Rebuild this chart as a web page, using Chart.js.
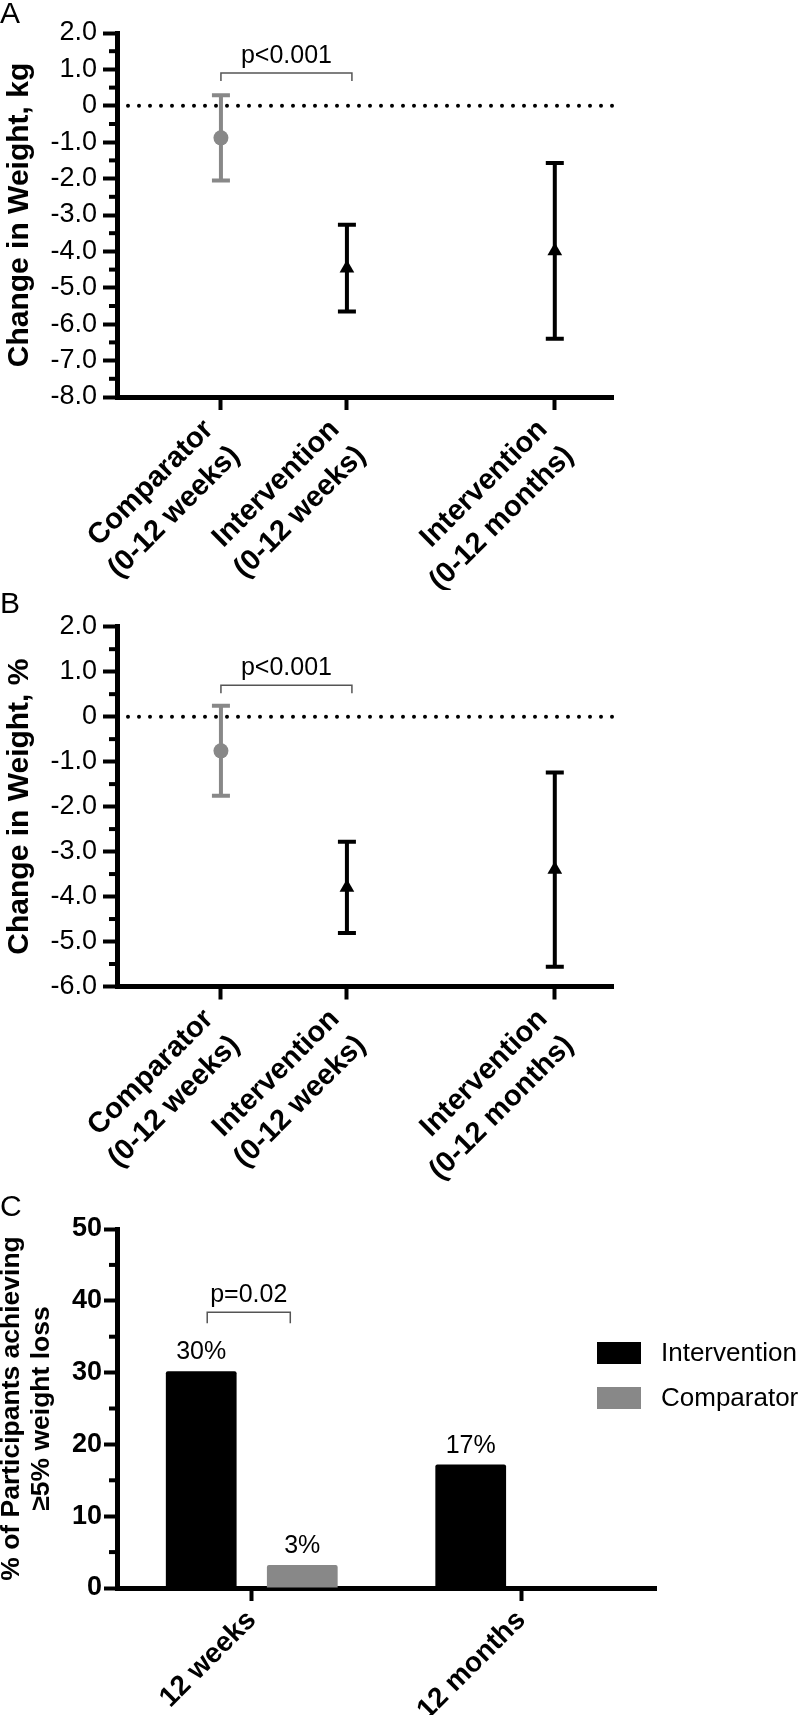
<!DOCTYPE html>
<html>
<head>
<meta charset="utf-8">
<script src="https://cdn.jsdelivr.net/npm/chart.js@4.4.1/dist/chart.umd.min.js"></script>
<style>
  body { margin: 0; background: #fff; }
  canvas { display: block; }
</style>
</head>
<body>
<canvas id="chartA" width="800" height="590"></canvas>
<canvas id="chartB" width="800" height="600"></canvas>
<canvas id="chartC" width="800" height="525"></canvas>
<script>
// groups for panels A and B
var groupLabels = [['Comparator', '(0-12 weeks)'], ['Intervention', '(0-12 weeks)'], ['Intervention', '(0-12 months)']];
var groupX = [1, 2, 3.65];

// panel A : change in weight, kg
var kgMean = [-0.88, -4.46, -3.99];
var kgLow = [-2.05, -5.65, -6.40];
var kgHigh = [0.29, -3.27, -1.57];

// panel B : change in weight, %
var pctMean = [-0.76, -3.80, -3.40];
var pctLow = [-1.76, -4.81, -5.56];
var pctHigh = [0.24, -2.78, -1.24];

// panel C : % achieving >=5% loss
var periods = ['12 weeks', '12 months'];
var interventionPct = [30.2, 17.2];
var comparatorPct = [3.2, null];

Chart.defaults.font.family = '"Liberation Sans", Arial, Helvetica, sans-serif';
Chart.defaults.color = '#000';
Chart.defaults.animation = false;

var BLACK = '#000000', GREY = '#888888';

function majorTickColor(step) {
    return function (c) {
        return (c.tick && c.tick.value % step === 0) ? BLACK : 'rgba(0,0,0,0)';
    };
}

function drawBracket(ctx, x1, x2, y, drop, text) {
    ctx.save();
    ctx.strokeStyle = '#555';
    ctx.lineWidth = 1.5;
    ctx.beginPath();
    ctx.moveTo(x1, y + drop);
    ctx.lineTo(x1, y);
    ctx.lineTo(x2, y);
    ctx.lineTo(x2, y + drop);
    ctx.stroke();
    ctx.fillStyle = BLACK;
    ctx.font = '25px "Liberation Sans", Arial, sans-serif';
    ctx.textAlign = 'center';
    ctx.textBaseline = 'alphabetic';
    ctx.fillText(text, (x1 + x2) / 2, y - 10);
    ctx.restore();
}

// letters, minor ticks, p-value bracket
var decorPlugin = {
    id: 'decor',
    afterDraw: function (chart, args, opts) {
        var ctx = chart.ctx, ys = chart.scales.y;
        ctx.save();
        ctx.fillStyle = BLACK;
        ctx.font = '30px "Liberation Sans", Arial, sans-serif';
        ctx.textAlign = 'left';
        ctx.textBaseline = 'alphabetic';
        ctx.fillText(opts.letter, 0, opts.letterY);

        ctx.strokeStyle = BLACK;
        ctx.lineWidth = 4;
        ys.ticks.forEach(function (t) {
            if (t.value % opts.major !== 0) {
                var y = ys.getPixelForValue(t.value);
                ctx.beginPath();
                ctx.moveTo(ys.right - 8, y);
                ctx.lineTo(ys.right, y);
                ctx.stroke();
            }
        });
        ctx.restore();

        if (opts.bracket) {
            var b = opts.bracket;
            var x1, x2;
            if (chart.config.type === 'bar') {
                x1 = chart.getDatasetMeta(0).data[0].x + 6;
                x2 = chart.getDatasetMeta(1).data[0].x - 12;
            } else {
                x1 = chart.scales.x.getPixelForValue(groupX[0]);
                x2 = chart.scales.x.getPixelForValue(groupX[1]) + 5;
            }
            drawBracket(ctx, x1, x2, ys.getPixelForValue(b.value), b.drop, b.text);
        }
    }
};

// zero line and error bars under the markers
var errorBarPlugin = {
    id: 'errorBars',
    beforeDatasetsDraw: function (chart) {
        var ctx = chart.ctx, xs = chart.scales.x, ys = chart.scales.y, area = chart.chartArea;
        var y0 = ys.getPixelForValue(0);
        ctx.save();
        ctx.strokeStyle = BLACK;
        ctx.lineWidth = 4;
        ctx.lineCap = 'round';
        ctx.setLineDash([0, 11]);
        ctx.beginPath();
        ctx.moveTo(area.left + 11, y0);
        ctx.lineTo(area.right, y0);
        ctx.stroke();
        ctx.setLineDash([]);
        ctx.lineCap = 'butt';

        chart.data.datasets.forEach(function (ds) {
            ctx.strokeStyle = ds.backgroundColor;
            ds.data.forEach(function (pt, i) {
                var x = xs.getPixelForValue(pt.x);
                var yl = ys.getPixelForValue(ds.low[i]);
                var yh = ys.getPixelForValue(ds.high[i]);
                ctx.beginPath();
                ctx.moveTo(x, yl);
                ctx.lineTo(x, yh);
                ctx.moveTo(x - 9, yl);
                ctx.lineTo(x + 9, yl);
                ctx.moveTo(x - 9, yh);
                ctx.lineTo(x + 9, yh);
                ctx.stroke();
            });
        });
        ctx.restore();
    }
};

function meanPanel(id, mean, low, high, yMin, title, canvasH, top, bottom, letter, bracketValue) {
    var comp = [0], interv = [1, 2];
    function pts(idx) { return idx.map(function (i) { return { x: groupX[i], y: mean[i] }; }); }
    function pick(arr, idx) { return idx.map(function (i) { return arr[i]; }); }

    return new Chart(document.getElementById(id), {
        type: 'scatter',
        data: {
            datasets: [{
                label: 'Comparator',
                data: pts(comp),
                low: pick(low, comp),
                high: pick(high, comp),
                backgroundColor: GREY,
                borderColor: GREY,
                pointStyle: 'circle',
                pointRadius: 7.5,
                borderWidth: 0
            }, {
                label: 'Intervention',
                data: pts(interv),
                low: pick(low, interv),
                high: pick(high, interv),
                backgroundColor: BLACK,
                borderColor: BLACK,
                pointStyle: 'triangle',
                pointRadius: 8.5,
                borderWidth: 0
            }]
        },
        options: {
            responsive: false,
            events: [],
            layout: { padding: { top: top, right: 187, left: 0, bottom: 0 } },
            plugins: {
                legend: { display: false },
                tooltip: { enabled: false },
                decor: {
                    letter: letter, letterY: 23, major: 1,
                    bracket: { value: bracketValue, drop: 8, text: 'p<0.001' }
                }
            },
            scales: {
                x: {
                    type: 'linear',
                    bounds: 'data',
                    min: 0.175,
                    max: 4.112,
                    afterBuildTicks: function (s) {
                        s.ticks = groupX.map(function (v) { return { value: v }; });
                    },
                    afterFit: function (s) { s.height = canvasH - bottom; },
                    border: { color: BLACK, width: 5 },
                    grid: { drawOnChartArea: false, color: BLACK, tickLength: 13, tickWidth: 4, tickColor: BLACK },
                    ticks: {
                        autoSkip: false,
                        minRotation: 45,
                        maxRotation: 45,
                        padding: 2,
                        labelOffset: -12,
                        color: BLACK,
                        font: { size: 29, weight: 'bold', lineHeight: 1.28 },
                        callback: function (v, i) { return groupLabels[i]; }
                    }
                },
                y: {
                    min: yMin,
                    max: 2,
                    afterFit: function (s) { s.width = 117; },
                    border: { color: BLACK, width: 5 },
                    grid: { drawOnChartArea: false, tickLength: 14, tickWidth: 4, tickColor: majorTickColor(1) },
                    title: {
                        display: true,
                        text: title,
                        color: BLACK,
                        font: { size: 30, weight: 'bold', lineHeight: 1.2 },
                        padding: { top: 2, bottom: 0 }
                    },
                    ticks: {
                        stepSize: 0.5,
                        autoSkip: false,
                        padding: 6,
                        color: BLACK,
                        font: { size: 27 },
                        callback: function (v) {
                            if (v % 1 !== 0) return '';
                            return v === 0 ? '0' : v.toFixed(1);
                        }
                    }
                }
            }
        },
        plugins: [errorBarPlugin, decorPlugin]
    });
}

meanPanel('chartA', kgMean, kgLow, kgHigh, -8, 'Change in Weight, kg', 590, 33, 397, 'A', 0.9);
meanPanel('chartB', pctMean, pctLow, pctHigh, -6, 'Change in Weight, %', 600, 36.7, 396.5, 'B', 0.7);

// bar value labels and legend for panel C
var barExtras = {
    id: 'barExtras',
    afterDatasetsDraw: function (chart, args, opts) {
        var ctx = chart.ctx;
        ctx.save();
        ctx.fillStyle = BLACK;
        ctx.font = '25px "Liberation Sans", Arial, sans-serif';
        ctx.textAlign = 'center';
        ctx.textBaseline = 'alphabetic';
        chart.data.datasets.forEach(function (ds, di) {
            chart.getDatasetMeta(di).data.forEach(function (bar, i) {
                var v = ds.data[i];
                if (v === null || v === undefined) return;
                ctx.fillText(Math.round(v) + '%', bar.x, bar.y - 12);
            });
        });

        ctx.font = '26px "Liberation Sans", Arial, sans-serif';
        ctx.textAlign = 'left';
        ctx.textBaseline = 'middle';
        chart.data.datasets.forEach(function (ds, di) {
            var y = opts.y + di * opts.gap;
            ctx.fillStyle = ds.backgroundColor;
            ctx.fillRect(opts.x, y - 11, 44, 22);
            ctx.fillStyle = BLACK;
            ctx.fillText(ds.label, opts.x + 64, y + 1);
        });
        ctx.restore();
    }
};

new Chart(document.getElementById('chartC'), {
    type: 'bar',
    data: {
        labels: periods,
        datasets: [{
            label: 'Intervention',
            data: interventionPct,
            backgroundColor: BLACK,
            borderRadius: 2,
            categoryPercentage: 0.75,
            barPercentage: 0.7
        }, {
            label: 'Comparator',
            data: comparatorPct,
            backgroundColor: GREY,
            borderRadius: 2,
            categoryPercentage: 0.75,
            barPercentage: 0.7
        }]
    },
    options: {
        responsive: false,
        events: [],
        layout: { padding: { top: 39, right: 144, left: 0, bottom: 0 } },
        plugins: {
            legend: { display: false },
            tooltip: { enabled: false },
            decor: {
                letter: 'C', letterY: 26, major: 10,
                bracket: { value: 38.4, drop: 11, text: 'p=0.02' }
            },
            barExtras: { x: 597, y: 163, gap: 45 }
        },
        scales: {
            x: {
                afterFit: function (s) { s.height = 525 - 398; },
                border: { color: BLACK, width: 5 },
                grid: { offset: false, drawOnChartArea: false, tickLength: 13, tickWidth: 4, tickColor: BLACK },
                ticks: {
                    autoSkip: false,
                    minRotation: 45,
                    maxRotation: 45,
                    padding: 3,
                    color: BLACK,
                    font: { size: 28, weight: 'bold' }
                }
            },
            y: {
                min: 0,
                max: 50,
                afterFit: function (s) { s.width = 117; },
                border: { color: BLACK, width: 5 },
                grid: { drawOnChartArea: false, tickLength: 13, tickWidth: 4, tickColor: majorTickColor(10) },
                title: {
                    display: true,
                    text: ['% of Participants achieving', '\u22655% weight loss'],
                    color: BLACK,
                    font: { size: 26.5, weight: 'bold', lineHeight: 1.15 },
                    padding: { top: -4, bottom: 0 }
                },
                ticks: {
                    stepSize: 5,
                    autoSkip: false,
                    padding: 2,
                    color: BLACK,
                    font: { size: 27, weight: 'bold' },
                    callback: function (v) { return v % 10 === 0 ? String(v) : ''; }
                }
            }
        }
    },
    plugins: [decorPlugin, barExtras]
});
</script>
</body>
</html>
